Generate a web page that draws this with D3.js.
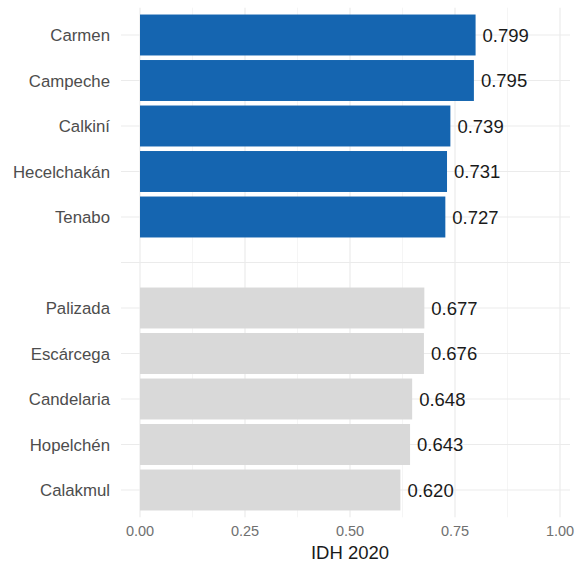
<!DOCTYPE html>
<html><head><meta charset="utf-8">
<script src="https://cdn.jsdelivr.net/npm/d3@7"></script>
<style>body{margin:0;background:#fff}svg{display:block}text{font-family:"Liberation Sans",Arial,sans-serif}</style>
</head><body><svg id="c" width="577" height="562"></svg>
<script>
const categories = ["Carmen","Campeche","Calkiní","Hecelchakán","Tenabo","","Palizada","Escárcega","Candelaria","Hopelchén","Calakmul"];
const values = [0.799,0.795,0.739,0.731,0.727,null,0.677,0.676,0.648,0.643,0.620];
const groups = ["top","top","top","top","top",null,"rest","rest","rest","rest","rest"];
const xTicks = [0,0.25,0.5,0.75,1.0];
const xTitle = "IDH 2020";

const svg = d3.select("#c");
const x = d3.scaleLinear().domain([0,1]).range([140,560]);
const y = d3.scalePoint().domain(categories).range([35,490]);
const step = y.step();
const panelTop = 35 - 0.6*step, panelBottom = 490 + 0.6*step;
const color = d3.scaleOrdinal().domain(["top","rest"]).range(["#1565b0","#d9d9d9"]);

const g = svg.append("g");
const minor = [0.125,0.375,0.625,0.875];
g.selectAll(".mn").data(minor).enter().append("line")
  .attr("x1",d=>x(d)).attr("x2",d=>x(d)).attr("y1",panelTop).attr("y2",panelBottom)
  .attr("stroke","#f2f2f2").attr("stroke-width",0.8);
g.selectAll(".mj").data(xTicks).enter().append("line")
  .attr("x1",d=>x(d)).attr("x2",d=>x(d)).attr("y1",panelTop).attr("y2",panelBottom)
  .attr("stroke","#ebebeb").attr("stroke-width",1.2);
g.selectAll(".hy").data(categories).enter().append("line")
  .attr("x1",121).attr("x2",x(1)+10).attr("y1",d=>y(d)).attr("y2",d=>y(d))
  .attr("stroke","#ebebeb").attr("stroke-width",1.2);

const data = categories.map((c,i)=>({c,v:values[i],g:groups[i]})).filter(d=>d.v!=null);
g.selectAll(".bar").data(data).enter().append("rect")
  .attr("x",x(0)).attr("y",d=>y(d.c)-step*0.45)
  .attr("width",d=>x(d.v)-x(0)).attr("height",step*0.9)
  .attr("fill",d=>color(d.g));
g.selectAll(".vl").data(data).enter().append("text")
  .attr("x",d=>x(d.v)+7).attr("y",d=>y(d.c)).attr("dy","0.36em")
  .attr("font-size",18.5).attr("fill","#1a1a1a").text(d=>d.v.toFixed(3));

g.selectAll(".yl").data(categories.filter(c=>c)).enter().append("text")
  .attr("x",110).attr("y",d=>y(d)).attr("dy","0.36em").attr("text-anchor","end")
  .attr("font-size",16.8).attr("fill","#4d4d4d").text(d=>d);
g.selectAll(".xl").data(xTicks).enter().append("text")
  .attr("x",d=>x(d)).attr("y",531).attr("dy","0.36em").attr("text-anchor","middle")
  .attr("font-size",14.5).attr("fill","#707070").text(d=>d3.format(".2f")(d));
svg.append("text").attr("x",x(0.5)).attr("y",552).attr("dy","0.36em").attr("text-anchor","middle")
  .attr("font-size",18.5).attr("fill","#1a1a1a").text(xTitle);
</script></body></html>
